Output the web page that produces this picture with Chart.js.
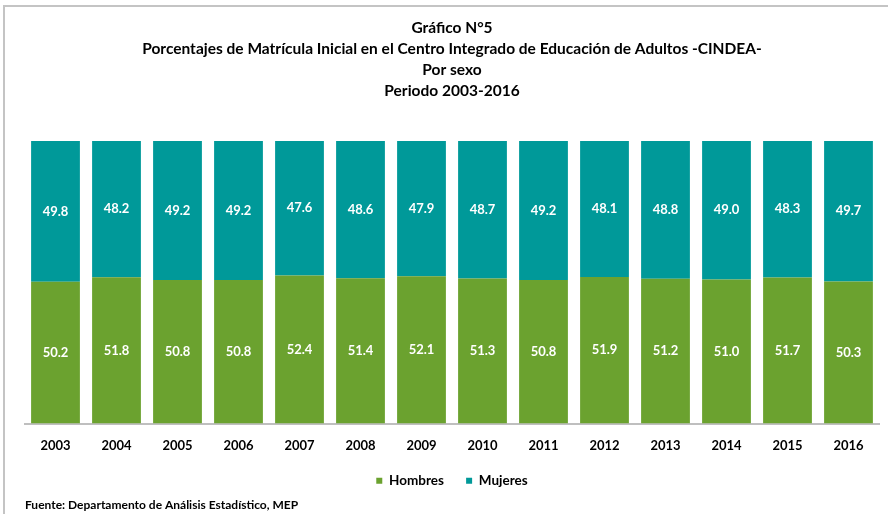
<!DOCTYPE html>
<html>
<head>
<meta charset="utf-8">
<script src="https://cdn.jsdelivr.net/npm/chart.js@4.4.1/dist/chart.umd.min.js"></script>
<style>
  html, body { margin:0; padding:0; background:#fff; }
  #wrap { position:relative; width:888px; height:514px; overflow:hidden; }
  #frame { position:absolute; left:3px; top:5px; width:1000px; height:1000px; border-top:2px solid #c4c4c4; border-left:2px solid #c4c4c4; }
  canvas { position:absolute; left:0; top:0; }
</style>
</head>
<body>
<div id="wrap">
  <div id="frame"></div>
  <canvas id="c" width="888" height="514"></canvas>
</div>
<script>
const titleLines = [
  'Gráfico N°5',
  'Porcentajes de Matrícula Inicial en el Centro Integrado de Educación de Adultos -CINDEA-',
  'Por sexo',
  'Periodo 2003-2016'
];
const years = ['2003','2004','2005','2006','2007','2008','2009','2010','2011','2012','2013','2014','2015','2016'];
const hombres = [50.2, 51.8, 50.8, 50.8, 52.4, 51.4, 52.1, 51.3, 50.8, 51.9, 51.2, 51.0, 51.7, 50.3];
const mujeres = [49.8, 48.2, 49.2, 49.2, 47.6, 48.6, 47.9, 48.7, 49.2, 48.1, 48.8, 49.0, 48.3, 49.7];
const sourceText = 'Fuente: Departamento de Análisis Estadístico, MEP';

const FONT = 'Lato, "Liberation Sans", sans-serif';

const labelPlugin = {
  id: 'segLabels',
  afterDatasetsDraw(chart) {
    const ctx = chart.ctx;
    ctx.save();
    ctx.fillStyle = '#ffffff';
    ctx.font = 'bold 13px ' + FONT;
    ctx.textAlign = 'center';
    ctx.textBaseline = 'middle';
    chart.data.datasets.forEach((ds, i) => {
      const meta = chart.getDatasetMeta(i);
      meta.data.forEach((bar, j) => {
        const p = bar.getProps(['x','y','base'], true);
        ctx.fillText(ds.data[j].toFixed(1), p.x, (p.y + p.base) / 2);
      });
    });
    ctx.restore();
  }
};

new Chart(document.getElementById('c'), {
  type: 'bar',
  data: {
    labels: years,
    datasets: [
      { label: 'Hombres', data: hombres, backgroundColor: '#6ba22f', borderWidth: 0 },
      { label: 'Mujeres', data: mujeres, backgroundColor: '#009999', borderWidth: 0 }
    ]
  },
  options: {
    responsive: false,
    animation: false,
    devicePixelRatio: 1,
    layout: { padding: { left: 25, right: 9, top: 0, bottom: 1 } },
    datasets: { bar: { categoryPercentage: 0.8, barPercentage: 1.0 } },
    scales: {
      x: {
        stacked: true,
        grid: { display: false },
        border: { display: true, color: '#bfbfbf', width: 2 },
        ticks: { color: '#000', font: { family: FONT, size: 13, weight: 'bold' }, padding: 7 }
      },
      y: { stacked: true, display: false, min: 0, max: 100 }
    },
    plugins: {
      title: {
        display: true,
        text: titleLines,
        color: '#000',
        font: { family: FONT, size: 15.5, weight: 'bold', lineHeight: 1.355 },
        padding: { top: 17, bottom: 40 }
      },
      subtitle: {
        display: true,
        position: 'bottom',
        align: 'start',
        text: sourceText,
        color: '#000',
        font: { family: FONT, size: 12, weight: 'bold' },
        padding: { top: 0, bottom: 1 }
      },
      legend: {
        display: true,
        position: 'bottom',
        title: { display: true, text: '', font: { size: 2, lineHeight: 1 }, padding: { top: 2, bottom: 2 } },
        labels: {
          color: '#000', boxWidth: 6, boxHeight: 6, padding: 7,
          font: { family: FONT, size: 13.5, weight: 'bold' },
          generateLabels(chart) {
            const items = Chart.defaults.plugins.legend.labels.generateLabels(chart);
            items.forEach((it, i) => { if (i < items.length - 1) it.text += '\u2002\u2002\u2009'; });
            return items;
          }
        }
      },
      tooltip: { enabled: false }
    }
  },
  plugins: [labelPlugin]
});
</script>
</body>
</html>
